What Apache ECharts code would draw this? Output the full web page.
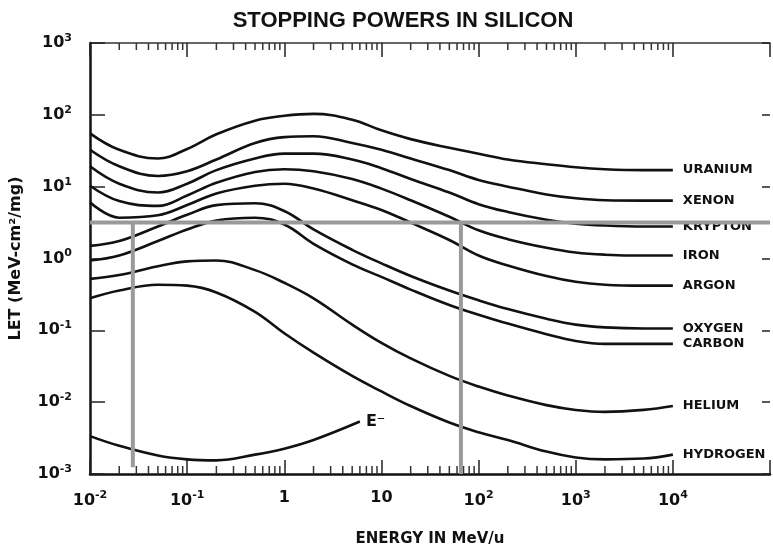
<!DOCTYPE html>
<html>
<head>
<meta charset="utf-8">
<script src="https://cdn.jsdelivr.net/npm/echarts@6/dist/echarts.min.js"></script>
<style>
  html, body { margin: 0; padding: 0; background: #fff; }
  #container { width: 773px; height: 552px; }
</style>
</head>
<body>
<div id="container"></div>
<script>
var dom = document.getElementById('container');
var myChart = echarts.init(dom);

// energy in MeV/u
var energy = [0.01, 0.02, 0.05, 0.1, 0.2, 0.5, 1, 2, 5, 10, 20, 50, 100, 200, 500, 1000, 2000, 5000, 10000];

// LET in MeV-cm2/mg
var uranium = [55.3, 32.6, 24.7, 33.5, 53.7, 83, 97, 103, 85.5, 60.8, 45.9, 34.7, 28.8, 23.9, 20.5, 18.6, 17.5, 17.0, 17.0];
var xenon = [32.6, 19.2, 14.1, 16.4, 23.9, 40.5, 48.9, 50.4, 40.5, 32.6, 24.7, 17.0, 12.4, 10.0, 7.8, 6.89, 6.47, 6.4, 6.4];
var krypton = [19.2, 11.0, 8.3, 11.0, 17.0, 24.7, 28.8, 28.8, 23.9, 18.1, 12.8, 8.3, 5.71, 4.45, 3.47, 3.06, 2.88, 2.79, 2.79];
var iron = [10.3, 6.3, 5.4, 7.55, 11.3, 16.0, 17.5, 16.4, 12.8, 9.4, 6.47, 3.81, 2.47, 1.86, 1.41, 1.21, 1.13, 1.10, 1.10];
var argon = [6.08, 3.7, 4.0, 5.54, 8.04, 10.3, 11.0, 9.4, 6.47, 4.74, 3.16, 1.81, 1.10, 0.80, 0.57, 0.474, 0.432, 0.419, 0.419];
var oxygen = [1.50, 1.75, 2.79, 4.06, 5.54, 5.89, 4.59, 2.54, 1.32, 0.856, 0.571, 0.358, 0.262, 0.198, 0.145, 0.120, 0.110, 0.106, 0.106];
var carbon = [0.94, 1.10, 1.75, 2.54, 3.37, 3.69, 2.97, 1.60, 0.83, 0.554, 0.369, 0.225, 0.165, 0.124, 0.0883, 0.0710, 0.0647, 0.0647, 0.0647];
var helium = [0.520, 0.589, 0.780, 0.911, 0.940, 0.689, 0.459, 0.279, 0.120, 0.0668, 0.0406, 0.0232, 0.0165, 0.0124, 0.0091, 0.0078, 0.00733, 0.0078, 0.00883];
var hydrogen = [0.279, 0.358, 0.432, 0.419, 0.337, 0.181, 0.091, 0.0489, 0.0232, 0.0141, 0.00883, 0.0052, 0.00381, 0.00297, 0.00205, 0.0017, 0.0016, 0.00164, 0.00186];

var electronEnergy = [0.01, 0.02, 0.05, 0.1, 0.2, 0.5, 1, 2, 6];
var electron = [0.00337, 0.00247, 0.00181, 0.0016, 0.00155, 0.00186, 0.00225, 0.00297, 0.00537];

// gray threshold lines
var letThreshold = 3.16;
var cutEnergies = [0.0276, 65.8];
var cutBottoms = [0.00124, 0.001];

var ions = [
  ['URANIUM', uranium], ['XENON', xenon], ['KRYPTON', krypton], ['IRON', iron],
  ['ARGON', argon], ['OXYGEN', oxygen], ['CARBON', carbon], ['HELIUM', helium], ['HYDROGEN', hydrogen]
];

// minor ticks of the energy axis (2..9 x 10^n)
var minorTicks = [];
for (var e = -2; e < 4; e++) {
  for (var k = 2; k <= 9; k++) minorTicks.push(k * Math.pow(10, e));
}

var font = '"Liberation Sans", Arial, Helvetica, sans-serif';
var wide = '"DejaVu Sans", "Liberation Sans", sans-serif';
var rich = {
  b: { fontFamily: wide, fontWeight: 'bold', fontSize: 16, color: '#111' },
  s: { fontFamily: wide, fontWeight: 'bold', fontSize: 11, color: '#111', padding: [0, 0, 10, 0] }
};

function pow10(v, plainSmall) {
  var ex = Math.round(Math.log(v) / Math.LN10);
  if (plainSmall && ex === 0) return '{b|1}';
  if (plainSmall && ex === 1) return '{b|10}';
  if (plainSmall && ex === 5) return '';
  return '{b|10}{s|' + ex + '}';
}

function zip(xs, ys) {
  return ys.map(function (y, i) { return [xs[i], y]; });
}

var series = ions.map(function (ion) {
  return {
    name: ion[0],
    type: 'line',
    data: zip(energy, ion[1]),
    smooth: 0.4,
    symbol: 'none',
    lineStyle: { color: '#111', width: 2.6 },
    endLabel: {
      show: true,
      formatter: ion[0],
      distance: 10,
      color: '#111',
      fontFamily: wide,
      fontWeight: 'bold',
      fontSize: 13
    },
    z: 3
  };
});

series.push({
  name: 'E-',
  type: 'line',
  data: zip(electronEnergy, electron),
  smooth: 0.4,
  symbol: 'none',
  lineStyle: { color: '#111', width: 2.6 },
  endLabel: {
    show: true,
    formatter: 'E\u207B',
    distance: 6,
    color: '#111',
    fontFamily: wide,
    fontWeight: 'bold',
    fontSize: 16
  },
  z: 3
});

series.push({
  type: 'line',
  data: [[0.01, letThreshold], [100000, letThreshold]],
  symbol: 'none',
  lineStyle: { color: '#9a9a9a', width: 4 },
  silent: true,
  z: 4
});
cutEnergies.forEach(function (x, i) {
  series.push({
    type: 'line',
    data: [[x, letThreshold], [x, cutBottoms[i]]],
    symbol: 'none',
    lineStyle: { color: '#9a9a9a', width: 4 },
    silent: true,
    z: 4
  });
});

series.push({
  type: 'custom',
  data: minorTicks.map(function (v) { return [v, 1]; }),
  encode: { x: 0, y: 1 },
  silent: true,
  clip: false,
  renderItem: function (params, api) {
    var x = api.coord([api.value(0), 1])[0];
    var cs = params.coordSys;
    var bottom = cs.y + cs.height;
    return {
      type: 'group',
      children: [
        { type: 'line', shape: { x1: x, y1: cs.y, x2: x, y2: cs.y + 7 }, style: { stroke: '#333', lineWidth: 1.5 } },
        { type: 'line', shape: { x1: x, y1: bottom, x2: x, y2: bottom - 8 }, style: { stroke: '#333', lineWidth: 1.5 } }
      ]
    };
  }
});

var option = {
  animation: false,
  title: {
    text: 'STOPPING POWERS IN SILICON',
    left: 398,
    top: 5,
    textAlign: 'center',
    textStyle: { fontFamily: font, fontWeight: 'bold', fontSize: 22, color: '#111' }
  },
  grid: { left: 86, right: 2, top: 43, bottom: 64 },
  xAxis: [
    {
      type: 'log',
      logBase: 10,
      min: 0.01,
      max: 100000,
      splitNumber: 7,
      position: 'bottom',
      name: 'ENERGY IN MeV/u',
      nameLocation: 'middle',
      nameGap: 58,
      nameTextStyle: { fontFamily: wide, fontWeight: 'bold', fontSize: 15, color: '#111' },
      axisLine: { lineStyle: { color: '#111', width: 2.5 } },
      axisTick: { inside: true, length: 14, lineStyle: { color: '#222', width: 1.5 } },
      axisLabel: {
        margin: 16,
        formatter: function (v) { return pow10(v, true); },
        rich: rich
      },
      splitLine: { show: false },
      minorTick: { show: false }
    },
    {
      type: 'log',
      logBase: 10,
      min: 0.01,
      max: 100000,
      splitNumber: 7,
      position: 'top',
      axisLine: { lineStyle: { color: '#333', width: 1.5 } },
      axisTick: { inside: true, length: 14, lineStyle: { color: '#222', width: 1.5 } },
      axisLabel: { show: false },
      splitLine: { show: false }
    }
  ],
  yAxis: [
    {
      type: 'log',
      logBase: 10,
      min: 0.001,
      max: 1000,
      splitNumber: 6,
      name: 'LET (MeV-cm\u00B2/mg)',
      nameLocation: 'middle',
      nameRotate: 90,
      nameGap: 66,
      nameTextStyle: { fontFamily: wide, fontWeight: 'bold', fontSize: 16, color: '#111' },
      axisLine: { lineStyle: { color: '#111', width: 2.5 } },
      axisTick: { inside: true, length: 15, lineStyle: { color: '#222', width: 1.5 } },
      axisLabel: {
        margin: 18,
        formatter: function (v) { return pow10(v, false); },
        rich: rich
      },
      splitLine: { show: false }
    },
    {
      type: 'log',
      logBase: 10,
      min: 0.001,
      max: 1000,
      splitNumber: 6,
      position: 'right',
      axisLine: { show: false },
      axisTick: { inside: true, length: 8, lineStyle: { color: '#222', width: 1.5 } },
      axisLabel: { show: false },
      splitLine: { show: false }
    }
  ],
  series: series
};

myChart.setOption(option);

window.addEventListener('resize', function () {
  myChart.resize();
});
</script>
</body>
</html>
